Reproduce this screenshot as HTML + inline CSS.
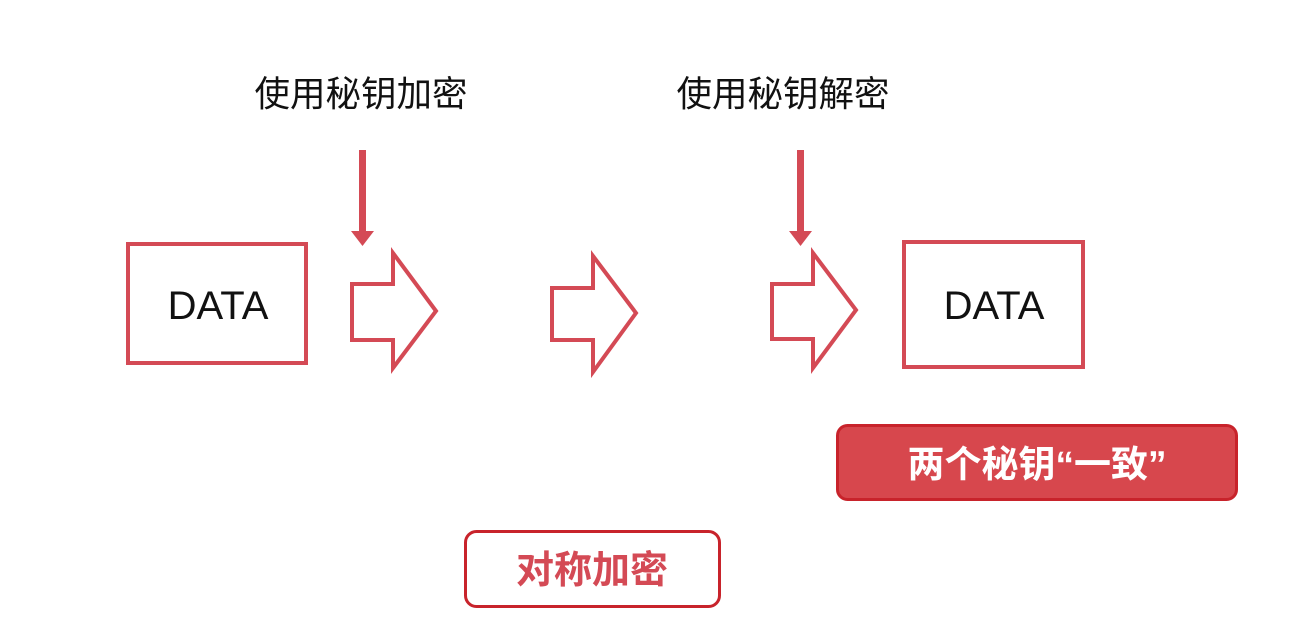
<!DOCTYPE html>
<html><head><meta charset="utf-8"><style>
html,body{margin:0;padding:0;background:#fff;width:1314px;height:641px;overflow:hidden}
text{font-family:"Liberation Sans","Noto Sans CJK SC",sans-serif}
</style></head><body>
<svg width="1314" height="641" viewBox="0 0 1314 641" xmlns="http://www.w3.org/2000/svg">
<text x="361" y="106" font-size="35.5" text-anchor="middle" fill="#111">使用秘钥加密</text>
<text x="783" y="106" font-size="35.5" text-anchor="middle" fill="#111">使用秘钥解密</text>
<g fill="none" stroke="#d44a55" stroke-width="4">
<rect x="128" y="244" width="178" height="119"/>
<rect x="904" y="242" width="179" height="125"/>
<polygon points="352,284 393,284 393,253 436,311 393,368 393,340 352,340"/>
<polygon points="552,288 593,288 593,256 636,313 593,372 593,340 552,340"/>
<polygon points="772,284 813,284 813,253 856,310 813,368 813,339 772,339"/>
</g>
<g fill="#d44a55">
<rect x="359" y="150" width="7" height="82"/>
<polygon points="351,231 374,231 362.5,246"/>
<rect x="797" y="150" width="7" height="82"/>
<polygon points="789,231 812,231 800.5,246"/>
</g>
<text x="218" y="319" font-size="40" text-anchor="middle" fill="#111">DATA</text>
<text x="994" y="319" font-size="40" text-anchor="middle" fill="#111">DATA</text>
<rect x="837.5" y="425.5" width="399" height="74" rx="10" fill="#d7474d" stroke="#c8232b" stroke-width="3"/>
<text x="1037" y="477" font-size="37" font-weight="bold" text-anchor="middle" fill="#fff">两个秘钥“一致”</text>
<rect x="465.5" y="531.5" width="254" height="75" rx="11" fill="#fff" stroke="#c8232b" stroke-width="3"/>
<text x="592" y="583" font-size="38" font-weight="600" text-anchor="middle" fill="#d44a55">对称加密</text>
</svg>
</body></html>
